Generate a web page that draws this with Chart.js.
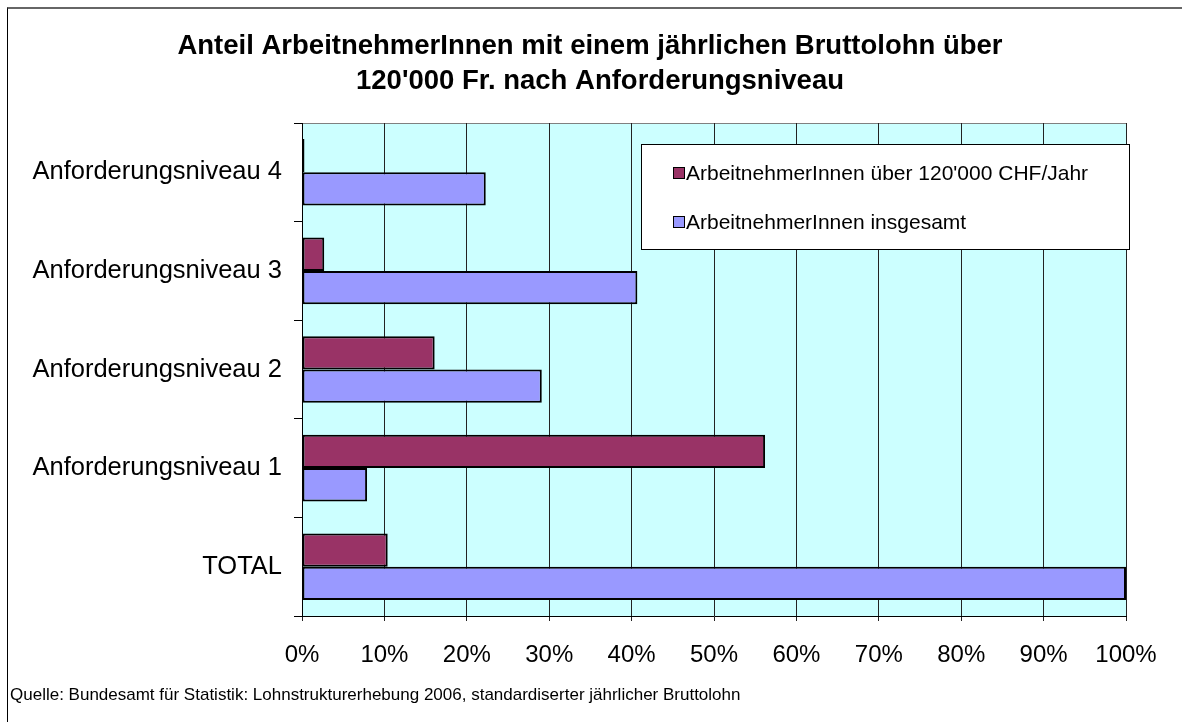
<!DOCTYPE html>
<html>
<head>
<meta charset="utf-8">
<script src="https://cdn.jsdelivr.net/npm/chart.js@4"></script>
<style>
    body { margin: 0; background: #fff; }
    #wrap { position: relative; width: 1182px; height: 722px; overflow: hidden; }
    #frame { position: absolute; left: 7px; top: 7px; width: 1300px; height: 900px;
             border-left: 1px solid #000; border-top: 2px solid #666; }
    #chart { position: absolute; left: 0; top: 0; }
</style>
</head>
<body>
<div id="wrap">
    <div id="frame"></div>
    <canvas id="chart" width="1182" height="722"></canvas>
</div>
<script>
const categories = ['Anforderungsniveau 4', 'Anforderungsniveau 3', 'Anforderungsniveau 2', 'Anforderungsniveau 1', 'TOTAL'];
const ueber120k = [0.3, 2.7, 16.1, 56.2, 10.4];
const insgesamt = [22.3, 40.7, 29.1, 7.9, 100];
const seriesNames = ["ArbeitnehmerInnen über 120'000 CHF/Jahr", 'ArbeitnehmerInnen insgesamt'];
const titleLines = ["Anteil ArbeitnehmerInnen mit einem jährlichen Bruttolohn über", "120'000 Fr. nach Anforderungsniveau"];
const sourceNote = 'Quelle: Bundesamt für Statistik: Lohnstrukturerhebung 2006, standardiserter jährlicher Bruttolohn';

const FONT = '"Liberation Sans", Arial, sans-serif';

// background of the plot area + thin top edge
const plotBackground = {
    id: 'plotBackground',
    beforeDraw(chart) {
        const { ctx, chartArea: a } = chart;
        ctx.save();
        ctx.fillStyle = '#CCFFFF';
        ctx.fillRect(a.left, a.top, a.right - a.left, a.bottom - a.top);
        ctx.strokeStyle = '#808080';
        ctx.lineWidth = 1;
        ctx.beginPath();
        ctx.moveTo(a.left, a.top + 0.5);
        ctx.lineTo(a.right, a.top + 0.5);
        ctx.stroke();
        ctx.restore();
    }
};

// title, source line and the boxed legend inside the plot
const chartTexts = {
    id: 'chartTexts',
    afterDraw(chart) {
        const { ctx } = chart;
        ctx.save();
        ctx.fillStyle = '#000';
        ctx.textBaseline = 'middle';
        ctx.textAlign = 'center';
        ctx.font = 'bold 27.5px ' + FONT;
        ctx.fillText(titleLines[0], 590, 46);
        ctx.fillText(titleLines[1], 600, 81);

        ctx.textAlign = 'left';
        ctx.font = '17px ' + FONT;
        ctx.fillText(sourceNote, 10, 695);

        // legend box
        const bx = 641, by = 144, bw = 488, bh = 105;
        ctx.fillStyle = '#fff';
        ctx.fillRect(bx, by, bw, bh);
        ctx.strokeStyle = '#000';
        ctx.lineWidth = 1;
        ctx.strokeRect(bx + 0.5, by + 0.5, bw, bh);
        ctx.font = '21px ' + FONT;
        chart.data.datasets.forEach((ds, i) => {
            const y = 173 + i * 49;
            ctx.fillStyle = ds.backgroundColor;
            ctx.fillRect(673, y - 6, 12, 12);
            ctx.strokeStyle = '#000';
            ctx.strokeRect(673.5, y - 5.5, 11, 11);
            ctx.fillStyle = '#000';
            ctx.fillText(ds.label, 686, y + 1);
        });
        ctx.restore();
    }
};

new Chart(document.getElementById('chart'), {
    type: 'bar',
    data: {
        labels: categories,
        datasets: [
            {
                label: seriesNames[0],
                data: ueber120k,
                backgroundColor: '#993366',
                borderColor: '#000',
                borderWidth: 2,
                borderSkipped: false,
                categoryPercentage: 0.675,
                barPercentage: 1
            },
            {
                label: seriesNames[1],
                data: insgesamt,
                backgroundColor: '#9999FF',
                borderColor: '#000',
                borderWidth: 2,
                borderSkipped: false,
                categoryPercentage: 0.675,
                barPercentage: 1
            }
        ]
    },
    options: {
        indexAxis: 'y',
        responsive: false,
        devicePixelRatio: 1,
        animation: false,
        layout: {
            padding: { left: 0, right: 56, top: 123, bottom: 0 }
        },
        plugins: {
            legend: { display: false },
            title: { display: false },
            tooltip: { enabled: false }
        },
        scales: {
            x: {
                min: 0,
                max: 100,
                ticks: {
                    stepSize: 10,
                    callback: value => value + '%',
                    color: '#000',
                    font: { family: FONT, size: 24 },
                    padding: 20,
                    maxRotation: 0
                },
                grid: {
                    color: '#222',
                    lineWidth: 1,
                    tickLength: 5
                },
                border: { color: '#000', width: 1 },
                afterFit: scale => { scale.height = 106; }
            },
            y: {
                ticks: {
                    color: '#000',
                    font: { family: FONT, size: 25.5 },
                    padding: 12
                },
                grid: {
                    offset: true,
                    drawOnChartArea: false,
                    color: '#000',
                    tickLength: 8
                },
                border: { color: '#000', width: 1 },
                afterFit: scale => { scale.width = 302; }
            }
        }
    },
    plugins: [plotBackground, chartTexts]
});
</script>
</body>
</html>
